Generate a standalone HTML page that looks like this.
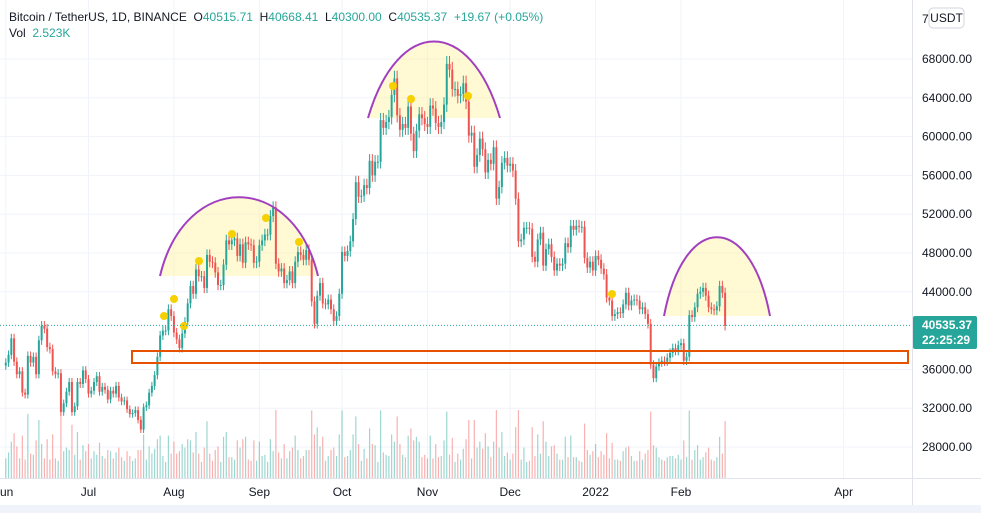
<!DOCTYPE html>
<html><head><meta charset="utf-8"><style>
body{margin:0;background:#fff;font-family:"Liberation Sans",sans-serif;}
svg text{font-family:"Liberation Sans",sans-serif;}
</style></head><body>
<svg id="c" width="981" height="513" xmlns="http://www.w3.org/2000/svg">
<rect x="0" y="0" width="981" height="513" fill="#fff"/>
<g id="grid"></g>
<g id="fills"></g>
<g id="vol"></g>
<g id="candles"></g>
<g id="ann"></g>
<g id="axes"></g>
</svg>
<script>
const priceTicks=[68000,64000,60000,56000,52000,48000,44000,36000,32000,28000];
const monthLabels=["un","Jul","Aug","Sep","Oct","Nov","Dec","2022","Feb","Apr"];
const monthDayIdx=[0,30,61,92,122,153,183,214,245,304];
const closes=[
36.7,37.5,39.2,36.8,35.5,35.8,33.6,33.4,37.4,36.7,37.3,35.5,39.0,40.5,40.2,38.3,38.1,35.8,35.5,35.6,31.6,32.5,33.7,34.7,31.6,32.2,34.7,34.5,35.9,35.0,
33.5,33.8,34.7,35.3,33.7,34.2,33.9,32.9,33.8,33.5,34.3,33.1,32.7,32.8,31.9,31.4,31.5,31.8,30.8,29.8,32.1,32.3,33.6,34.3,35.4,37.3,39.5,40.0,40.0,42.2,41.5,
39.8,39.1,38.2,39.7,40.9,42.8,44.6,43.8,46.3,45.6,45.6,44.4,47.8,47.1,47.0,46.0,44.7,44.7,46.8,49.3,48.9,49.3,49.5,47.7,48.9,47.0,49.1,48.9,48.8,47.0,47.1,
48.8,49.3,49.9,49.9,51.8,52.7,46.9,46.1,46.4,44.9,45.2,46.1,44.9,47.1,48.1,47.8,47.3,48.3,47.3,43.0,40.7,43.6,44.9,42.8,42.7,43.2,42.2,41.0,41.5,43.8,
48.1,47.7,48.2,49.2,51.5,55.3,53.8,53.9,55.0,54.7,57.5,56.0,57.4,57.4,61.7,60.9,61.5,62.0,64.3,66.0,62.2,60.7,61.3,60.9,63.1,60.3,58.5,60.6,62.3,61.9,61.3,
61.0,63.2,62.9,61.4,61.0,61.5,63.3,67.5,66.9,64.9,64.9,64.2,64.4,65.5,63.6,60.1,60.4,56.9,58.1,59.8,58.7,56.3,57.6,57.2,58.9,53.6,54.8,57.3,57.8,57.0,
57.2,56.5,53.6,49.2,49.4,50.6,50.6,50.5,47.6,47.1,49.4,50.1,46.7,48.4,48.9,47.6,46.2,46.9,46.7,46.9,49.0,48.6,50.8,50.4,50.8,50.7,50.7,47.5,46.5,47.1,46.2,
47.7,47.3,46.4,45.8,43.4,43.1,41.5,41.7,41.9,41.8,42.7,43.9,42.6,43.1,43.2,43.1,42.2,42.4,41.7,40.7,36.5,35.1,36.3,36.7,36.9,36.8,37.2,37.7,38.2,37.9,38.5,
38.7,36.9,37.3,41.6,41.4,42.4,43.8,44.0,44.4,43.6,42.4,42.2,42.1,42.5,44.6,43.9,40.5];
const NS="http://www.w3.org/2000/svg";
const X0=5.8, DX=2.756;
const xOf=i=>X0+i*DX;
const yOf=p=>59+(68000-p)*0.0097;
function mk(tag,attrs,parent){const e=document.createElementNS(NS,tag);for(const k in attrs)e.setAttribute(k,attrs[k]);parent.appendChild(e);return e;}
const grid=document.getElementById('grid'),fills=document.getElementById('fills'),vol=document.getElementById('vol'),cg=document.getElementById('candles'),ann=document.getElementById('ann'),ax=document.getElementById('axes');
priceTicks.forEach(p=>{const l=mk('line',{x1:0,x2:912,y1:yOf(p),y2:yOf(p),stroke:'#f0f3fa'},grid);

});
monthDayIdx.forEach(d=>{const l=mk('line',{x1:xOf(d),x2:xOf(d),y1:0,y2:478,stroke:'#f0f3fa'},grid);

});
closes.forEach((c,i)=>{
 const cl=c*1000, op=(i?closes[i-1]:c-0.3)*1000;
 const up=cl>=op, col=up?'#26a69a':'#ef5350';
 const hi=Math.max(cl,op)*1.012, lo=Math.min(cl,op)*0.988;
 const x=xOf(i);
 const w=mk('line',{x1:x,x2:x,y1:yOf(hi),y2:yOf(lo),stroke:col,'stroke-width':1},cg);
 
 
 const yt=yOf(Math.max(cl,op)), yb=yOf(Math.min(cl,op));
 const b=mk('rect',{x:x-1,y:yt,width:2,height:Math.max(1,yb-yt),fill:col},cg);
 
 
 const vh=Math.min(68,16+Math.abs(cl-op)/1000*12);
 const v=mk('rect',{x:x-0.6,y:478-vh,width:1.2,height:vh,fill:up?'rgba(38,166,154,0.45)':'rgba(239,83,80,0.45)'},vol);
 
 
});
[["M160,276 C185,171 293,171 318,276","arc-1"],["M368,118 C398,16 470,16 500,118","arc-2"],["M664,316 C684,211 750,211 770,316","arc-3"]].forEach(a=>{
 const f=mk('path',{d:a[0]+' Z',fill:'rgba(255,242,160,0.45)',stroke:'none'},fills);
 
 
 const p=mk('path',{d:a[0],fill:'none',stroke:'#a13fbf','stroke-width':2},ann);
 
 
});
const r=mk('rect',{x:132,y:351,width:776,height:12,fill:'none',stroke:'#e65100','stroke-width':2},ann);


[[164,316],[174,299],[184,326],[199,261],[232,234],[266,218],[299,242],[393,86],[411,99],[468,96],[612,294]].forEach(d=>{
 const c=mk('circle',{cx:d[0],cy:d[1],r:4,fill:'#f7d000'},ann);
 
 
});
const dl=mk('line',{x1:0,x2:912,y1:yOf(40535),y2:yOf(40535),stroke:'#26a69a','stroke-dasharray':'1,2'},ann);


const sep=mk('line',{x1:912.5,x2:912.5,y1:0,y2:505,stroke:'#e0e3eb'},ax);


const tb=mk('line',{x1:0,x2:981,y1:478.5,y2:478.5,stroke:'#e0e3eb'},ax);


const bb=mk('rect',{x:0,y:505,width:981,height:8,fill:'#f0f3fa'},ax);


priceTicks.forEach(p=>{const t=mk('text',{x:922,y:yOf(p)+4,'font-size':12,fill:'#131722'},ax);t.textContent=p.toFixed(2);

});
const t7=mk('text',{x:922,y:23,'font-size':12,fill:'#131722'},ax);t7.textContent='7';


const ub=mk('rect',{x:929,y:8,width:35,height:20,rx:4,fill:'#fff',stroke:'#d1d4dc'},ax);


const ut=mk('text',{x:946.5,y:22,'font-size':12,fill:'#131722','text-anchor':'middle'},ax);ut.textContent='USDT';


const pb=mk('rect',{x:913,y:316,width:64,height:33,rx:2,fill:'#26a69a'},ax);


const pt=mk('text',{x:922,y:329,'font-size':12,'font-weight':'bold',fill:'#fff'},ax);pt.textContent='40535.37';


const ct=mk('text',{x:922,y:344,'font-size':12,'font-weight':'bold',fill:'#fff'},ax);ct.textContent='22:25:29';


monthLabels.forEach((m,i)=>{const t=mk('text',{x:xOf(monthDayIdx[i]),y:496,'font-size':12,fill:'#131722','text-anchor':i==0?'start':'middle'},ax);
if(i==0)t.setAttribute('x',0);
t.textContent=m;

});
</script>
<div style="position:absolute;left:9px;top:9px;font-size:12px;line-height:16px;color:#131722;">
<div>Bitcoin / TetherUS, 1D, BINANCE&nbsp; O<span style="color:#26a69a">40515.71</span>&nbsp; H<span style="color:#26a69a">40668.41</span>&nbsp; L<span style="color:#26a69a">40300.00</span>&nbsp; C<span style="color:#26a69a">40535.37</span>&nbsp; <span style="color:#26a69a">+19.67 (+0.05%)</span></div>
<div>Vol&nbsp; <span style="color:#26a69a">2.523K</span></div>
</div>
</body></html>
